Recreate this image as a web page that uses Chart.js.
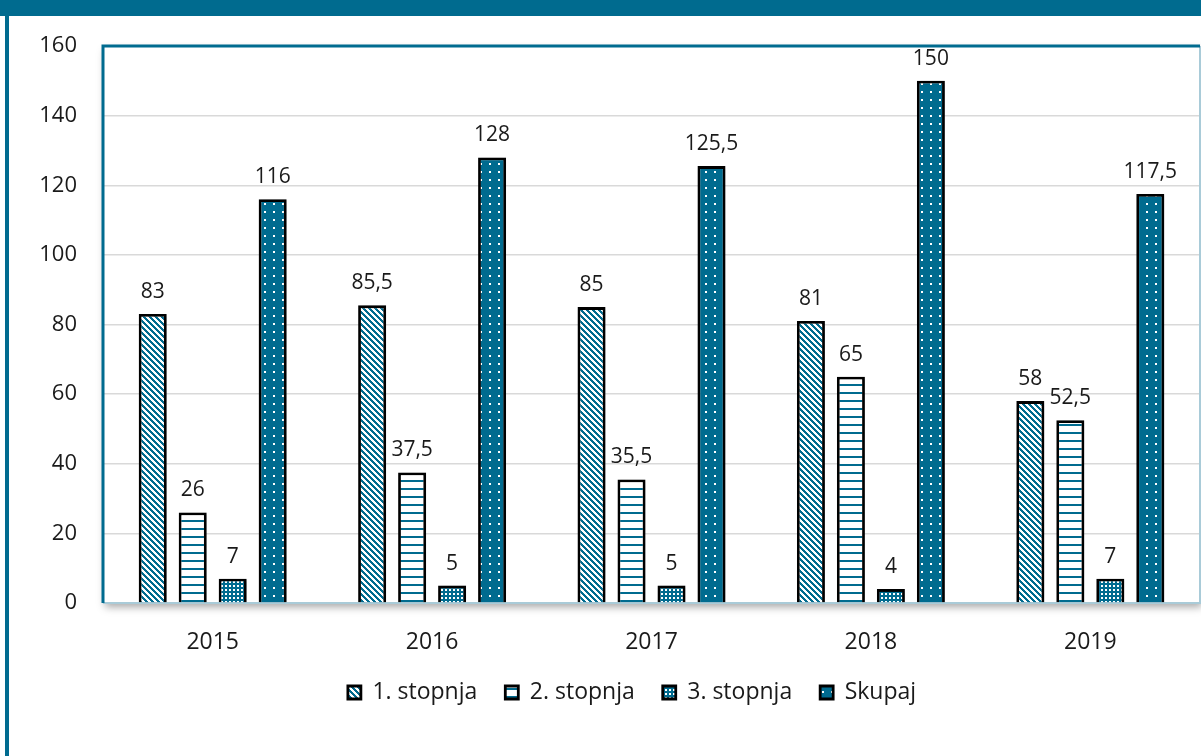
<!DOCTYPE html>
<html>
<head>
<meta charset="utf-8">
<script src="https://cdn.jsdelivr.net/npm/chart.js@4.4.1/dist/chart.umd.min.js"></script>
<style>
  html, body { margin: 0; padding: 0; background: #fff; }
  #wrap { position: relative; width: 1201px; height: 756px; }
</style>
</head>
<body>
<div id="wrap"><canvas id="chart" width="1201" height="756"></canvas></div>
<script>
(function() {
    'use strict';

    const TEAL = '#006b8f';
    const years = ['2015', '2016', '2017', '2018', '2019'];
    const seriesNames = ['1. stopnja', '2. stopnja', '3. stopnja', 'Skupaj'];
    const stopnja1 = [83, 85.5, 85, 81, 58];
    const stopnja2 = [26, 37.5, 35.5, 65, 52.5];
    const stopnja3 = [7, 5, 5, 4, 7];
    const skupaj = [116, 128, 125.5, 150, 117.5];
    const yTicks = [0, 20, 40, 60, 80, 100, 120, 140, 160];

    const FONT = "'Open Sans', 'DejaVu Sans', sans-serif";

    // pixel patterns like the excel fills
    function makePattern(w, h, paint) {
        const c = document.createElement('canvas');
        c.width = w; c.height = h;
        const g = c.getContext('2d');
        paint(g, w, h);
        return c.getContext('2d').createPattern(c, 'repeat');
    }

    const diagFill = makePattern(6, 6, (g, w, h) => {
        g.fillStyle = '#fff'; g.fillRect(0, 0, w, h);
        g.fillStyle = TEAL;
        for (let y = 0; y < h; y++) for (let x = 0; x < w; x++) {
            if (((x - y) % 6 + 6) % 6 < 3) g.fillRect(x, y, 1, 1);
        }
    });
    const hLineFill = makePattern(8, 8, (g, w, h) => {
        g.fillStyle = '#fff'; g.fillRect(0, 0, w, h);
        g.fillStyle = TEAL; g.fillRect(0, 0, w, 2);
    });
    const smallDotFill = makePattern(4, 4, (g, w, h) => {
        g.fillStyle = TEAL; g.fillRect(0, 0, w, h);
        g.fillStyle = '#fff'; g.fillRect(1, 1, 2, 2);
    });
    const bigDotFill = makePattern(9, 8, (g, w, h) => {
        g.fillStyle = TEAL; g.fillRect(0, 0, w, h);
        g.fillStyle = '#fff'; g.fillRect(3, 3, 2, 2);
    });

    function fmt(v) { return String(v).replace('.', ','); }

    const framePlugin = {
        id: 'frame',
        afterLayout(chart) {
            // the legend sits a bit right of the page centre
            chart.legend.left += 17;
            chart.legend.right += 17;
        },
        beforeDraw(chart) {
            const ctx = chart.ctx, a = chart.chartArea;
            ctx.save();
            ctx.fillStyle = '#fff';
            ctx.fillRect(0, 0, chart.width, chart.height);
            // header band and left rule
            ctx.fillStyle = TEAL;
            ctx.fillRect(0, 0, chart.width, 16);
            ctx.fillRect(5, 16, 4, chart.height - 16);
            // plot area with shadow
            ctx.shadowColor = 'rgba(0,0,0,0.35)';
            ctx.shadowBlur = 8;
            ctx.shadowOffsetX = 2;
            ctx.shadowOffsetY = 4;
            ctx.fillStyle = '#fff';
            ctx.fillRect(a.left, a.top, a.right - a.left, a.bottom - a.top);
            ctx.restore();
        },
        beforeDatasetsDraw(chart) {
            const ctx = chart.ctx, a = chart.chartArea;
            ctx.save();
            ctx.strokeStyle = '#a9cbd8';
            ctx.lineWidth = 2;
            ctx.beginPath();
            ctx.moveTo(a.left, a.bottom); ctx.lineTo(a.right, a.bottom); ctx.lineTo(a.right, a.top);
            ctx.stroke();
            ctx.strokeStyle = TEAL;
            ctx.lineWidth = 3;
            ctx.beginPath();
            ctx.moveTo(a.left, a.bottom); ctx.lineTo(a.left, a.top); ctx.lineTo(a.right, a.top);
            ctx.stroke();
            ctx.restore();
        },
        beforeDatasetDraw(chart) {
            const ctx = chart.ctx;
            ctx.save();
            ctx.shadowColor = 'rgba(0,0,0,0.3)';
            ctx.shadowBlur = 4;
            ctx.shadowOffsetX = 2;
            ctx.shadowOffsetY = 1;
        },
        afterDatasetDraw(chart) {
            chart.ctx.restore();
        },
        afterDatasetsDraw(chart) {
            const ctx = chart.ctx;
            ctx.save();
            ctx.font = '21px ' + FONT;
            ctx.fillStyle = '#1a1a1a';
            ctx.textAlign = 'center';
            ctx.textBaseline = 'alphabetic';
            chart.data.datasets.forEach((ds, i) => {
                chart.getDatasetMeta(i).data.forEach((bar, j) => {
                    ctx.fillText(fmt(ds.data[j]), bar.x, bar.y - 16);
                });
            });
            ctx.restore();
        }
    };

    const fills = [diagFill, hLineFill, smallDotFill, bigDotFill];
    const values = [stopnja1, stopnja2, stopnja3, skupaj];

    new Chart(document.getElementById('chart'), {
        type: 'bar',
        data: {
            labels: years,
            datasets: seriesNames.map((name, i) => ({
                label: name,
                data: values[i],
                backgroundColor: fills[i],
                borderColor: '#000',
                borderWidth: 2.8,
                borderSkipped: 'bottom',
                categoryPercentage: 0.729,
                barPercentage: 0.7
            }))
        },
        options: {
            responsive: false,
            animation: false,
            layout: { padding: { left: 30, top: 46, right: 1, bottom: 42 } },
            plugins: {
                legend: {
                    position: 'bottom',
                    labels: {
                        color: '#1a1a1a',
                        font: { family: FONT, size: 23 },
                        boxWidth: 13, boxHeight: 13,
                        padding: 28
                    }
                },
                tooltip: { enabled: false }
            },
            scales: {
                x: {
                    grid: { display: false, drawTicks: false },
                    border: { display: false },
                    ticks: { color: '#1a1a1a', font: { family: FONT, size: 23 }, padding: 26 },
                    afterFit: s => { s.height = 50; }
                },
                y: {
                    min: 0, max: 160,
                    afterBuildTicks: s => { s.ticks = yTicks.map(v => ({ value: v })); },
                    grid: { color: '#d9d9d9', lineWidth: 1.5, drawTicks: false },
                    border: { display: false },
                    ticks: { color: '#1a1a1a', font: { family: FONT, size: 22 }, padding: 26 },
                    afterFit: s => { s.width = 73; }
                }
            }
        },
        plugins: [framePlugin]
    });
})();
</script>
</body>
</html>
